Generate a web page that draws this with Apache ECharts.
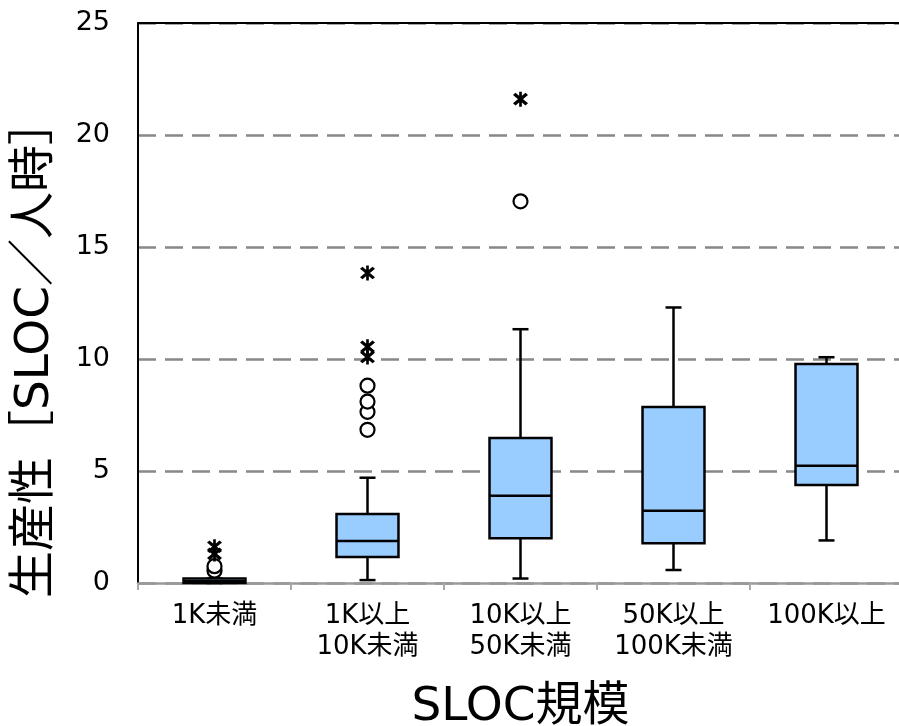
<!DOCTYPE html>
<html>
<head>
<meta charset="utf-8">
<script src="https://cdn.jsdelivr.net/npm/echarts@6/dist/echarts.min.js"></script>
<style>html,body{margin:0;padding:0;background:#fff}#c{width:899px;height:726px}</style>
</head>
<body>
<div id="c"></div>
<script>
var categories = ['1K未満', '1K以上\n10K未満', '10K以上\n50K未満', '50K以上\n100K未満', '100K以上'];
// [min, Q1, median, Q3, max]
var boxValues = [
  [0, 0, 0.08, 0.2, 0.2],
  [0.13, 1.16, 1.87, 3.08, 4.7],
  [0.2, 2.0, 3.9, 6.47, 11.33],
  [0.58, 1.77, 3.22, 7.86, 12.3],
  [1.9, 4.37, 5.23, 9.78, 10.08]
];
// [category index, value]
var circleOutliers = [
  [0, 0.55], [0, 0.75],
  [1, 6.84], [1, 7.64], [1, 8.1], [1, 8.81],
  [2, 17.04]
];
var starOutliers = [
  [0, 1.3], [0, 1.62],
  [1, 10.09], [1, 10.55], [1, 13.84],
  [2, 21.6]
];
var yTicks = { min: 0, max: 25, interval: 5 };

var FONT = '"DejaVu Sans","Noto Sans CJK JP",sans-serif';
var starPath = 'path://M8.5,0 L11.5,0 L11.5,20 L8.5,20 Z M1.6,4.4 L4.4,1.6 L18.4,15.6 L15.6,18.4 Z M18.4,4.4 L4.4,18.4 L1.6,15.6 L15.6,1.6 Z';

var boxData = boxValues.map(function (v, i) { return [i].concat(v); });

var chart = echarts.init(document.getElementById('c'));
chart.setOption({
  animation: false,
  backgroundColor: '#fff',
  grid: { left: 138, top: 23, width: 765, height: 560, outerBoundsMode: 'none', containLabel: false },
  xAxis: [{
    type: 'category',
    data: categories,
    boundaryGap: true,
    position: 'bottom',
    axisLine: { lineStyle: { color: '#999', width: 2.5 } },
    axisTick: { show: true, length: 7, lineStyle: { color: '#aaa', width: 2 } },
    axisLabel: { color: '#000', fontSize: 26, fontFamily: FONT, margin: 18, lineHeight: 31, interval: 0 },
    name: 'SLOC規模',
    nameLocation: 'middle',
    nameGap: 101,
    nameTextStyle: { color: '#000', fontSize: 47, fontFamily: FONT }
  }, {
    type: 'category',
    data: categories,
    position: 'top',
    axisLine: { lineStyle: { color: '#000', width: 2 } },
    axisTick: { show: false },
    axisLabel: { show: false }
  }],
  yAxis: {
    type: 'value',
    min: yTicks.min, max: yTicks.max, interval: yTicks.interval,
    axisLine: { show: true, lineStyle: { color: '#000', width: 2 } },
    axisTick: { show: false },
    axisLabel: { color: '#000', fontSize: 27, fontFamily: FONT, margin: 28 },
    splitLine: { show: true, lineStyle: { color: '#888', width: 2.5, type: [18, 9] } }
  },
  graphic: [{
    type: 'text',
    x: 36, y: 348,
    rotation: Math.PI / 2,
    style: {
      text: '生産性［SLOC／人時］',
      font: '47px ' + FONT,
      fill: '#000',
      textAlign: 'center',
      textVerticalAlign: 'middle'
    }
  }],
  series: [{
    type: 'custom',
    data: boxData,
    encode: { x: 0, y: [1, 2, 3, 4, 5] },
    z: 3,
    renderItem: function (params, api) {
      var idx = api.value(0);
      var pMin = api.coord([idx, api.value(1)]);
      var pQ1 = api.coord([idx, api.value(2)]);
      var pMed = api.coord([idx, api.value(3)]);
      var pQ3 = api.coord([idx, api.value(4)]);
      var pMax = api.coord([idx, api.value(5)]);
      var bw = api.size([1, 0])[0] * 0.405;
      var cap = 16;
      var x = pMed[0];
      var lineStyle = { stroke: '#000', lineWidth: 2.5 };
      return {
        type: 'group',
        children: [
          { type: 'line', shape: { x1: x, y1: pMax[1], x2: x, y2: pQ3[1] }, style: lineStyle },
          { type: 'line', shape: { x1: x, y1: pQ1[1], x2: x, y2: pMin[1] }, style: lineStyle },
          { type: 'line', shape: { x1: x - cap / 2, y1: pMax[1], x2: x + cap / 2, y2: pMax[1] }, style: lineStyle },
          { type: 'line', shape: { x1: x - cap / 2, y1: pMin[1], x2: x + cap / 2, y2: pMin[1] }, style: lineStyle },
          { type: 'rect', shape: { x: x - bw / 2, y: pQ3[1], width: bw, height: pQ1[1] - pQ3[1] },
            style: { fill: '#99CCFF', stroke: '#000', lineWidth: 2.5 } },
          { type: 'line', shape: { x1: x - bw / 2, y1: pMed[1], x2: x + bw / 2, y2: pMed[1] }, style: lineStyle }
        ]
      };
    }
  }, {
    type: 'scatter',
    data: circleOutliers,
    symbol: 'circle',
    symbolSize: 14,
    z: 4,
    itemStyle: { color: '#fff', borderColor: '#000', borderWidth: 2.2, opacity: 1 }
  }, {
    type: 'scatter',
    data: starOutliers,
    symbol: starPath,
    symbolSize: 15,
    z: 5,
    itemStyle: { color: '#000', opacity: 1 }
  }]
});
</script>
</body>
</html>
